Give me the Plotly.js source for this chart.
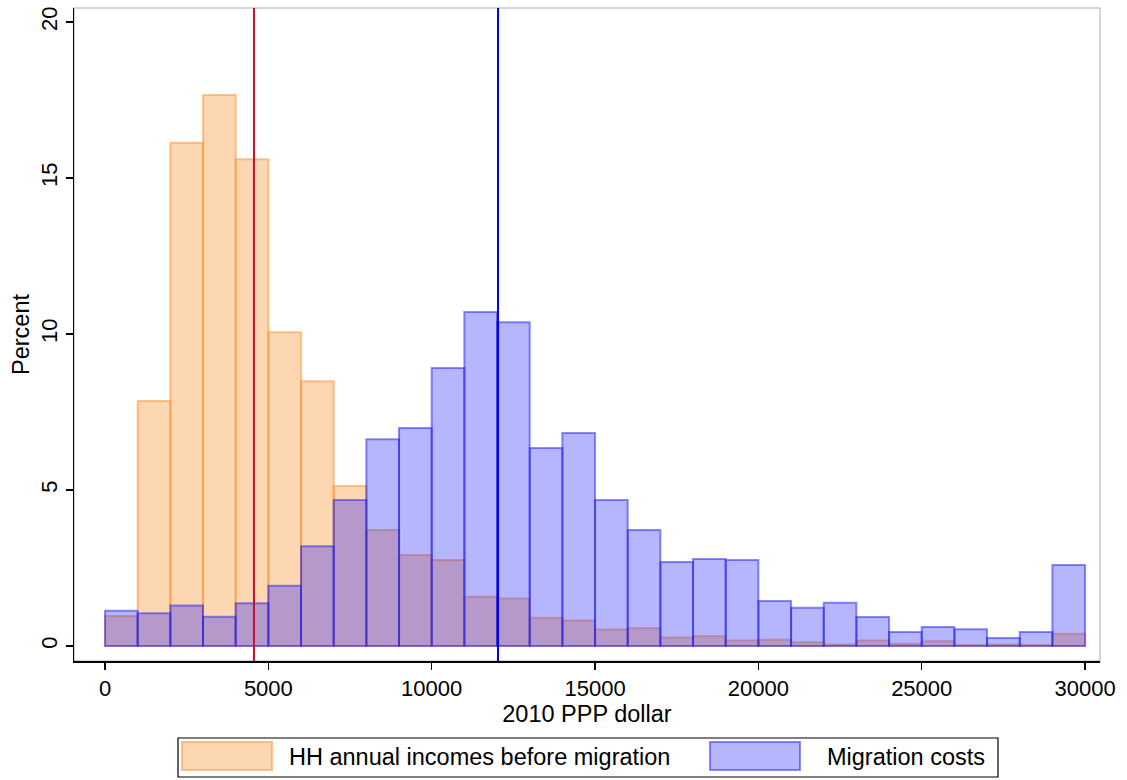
<!DOCTYPE html>
<html><head><meta charset="utf-8">
<script src="https://cdn.plot.ly/plotly-3.0.1.min.js"></script>
<style>html,body{margin:0;padding:0;background:#fff}#chart{width:1127px;height:780px}</style>
</head><body><div id="chart"></div>
<script>
// Bin left edges (2010 PPP dollars), width 1000
var binStarts = [0,1000,2000,3000,4000,5000,6000,7000,8000,9000,10000,11000,12000,13000,14000,15000,16000,17000,18000,19000,20000,21000,22000,23000,24000,25000,26000,27000,28000,29000];
var binWidth = 1000;
var incomePct = [0.96,7.85,16.13,17.66,15.6,10.06,8.49,5.13,3.72,2.92,2.76,1.58,1.52,0.91,0.82,0.53,0.57,0.27,0.31,0.18,0.2,0.12,0.05,0.18,0.07,0.15,0.03,0.05,0.03,0.39];
var costPct = [1.13,1.05,1.30,0.94,1.37,1.93,3.2,4.68,6.63,6.99,8.91,10.71,10.38,6.35,6.83,4.68,3.72,2.69,2.79,2.76,1.44,1.23,1.39,0.93,0.45,0.61,0.54,0.26,0.45,2.6];
var incomeMedian = 4560;
var costMedian = 12030;
var seriesNames = ["HH annual incomes before migration","Migration costs"];
var xTicks = [0,5000,10000,15000,20000,25000,30000];
var yTicks = [0,5,10,15,20];

var centers = binStarts.map(function(b){return b + binWidth/2;});
var FONT = "Liberation Sans, Arial, sans-serif";
var FS = 22, FT = 23.5;

var orangeFill = 'rgba(250,135,30,0.34)', orangeLine = 'rgba(252,150,60,0.55)';
var blueFill = 'rgba(20,20,255,0.31)', blueLine = 'rgba(30,30,240,0.5)';

var traces = [
  {type:'bar', x:centers, y:incomePct, width:binWidth, name:seriesNames[0], showlegend:false,
   marker:{color:orangeFill, line:{color:orangeLine, width:2}}},
  {type:'bar', x:centers, y:costPct, width:binWidth, name:seriesNames[1], showlegend:false,
   marker:{color:blueFill, line:{color:blueLine, width:2}}}
];

// plot area in pixels
var L=74, R=1100, T=8, B=661;
function px(x){return (x-L)/(R-L);}
function py(y){return (B-y)/(B-T);}

var shapes = [
  {type:'rect', xref:'paper', yref:'paper', x0:0, x1:1, y0:0, y1:1, line:{color:'#c8c8c8', width:1.5}, layer:'below'},
  {type:'line', xref:'x', yref:'paper', x0:incomeMedian, x1:incomeMedian, y0:0, y1:1, line:{color:'#C8102E', width:2}},
  {type:'line', xref:'x', yref:'paper', x0:costMedian, x1:costMedian, y0:0, y1:1, line:{color:'#0000F0', width:2}},
  // legend box
  {type:'rect', xref:'paper', yref:'paper', x0:px(178), x1:px(998), y0:py(777), y1:py(738), line:{color:'#000', width:1.2}, fillcolor:'#fff'},
  {type:'rect', xref:'paper', yref:'paper', x0:px(182), x1:px(272), y0:py(770), y1:py(742), line:{color:orangeLine, width:2}, fillcolor:orangeFill},
  {type:'rect', xref:'paper', yref:'paper', x0:px(710), x1:px(800), y0:py(770), y1:py(742), line:{color:blueLine, width:2}, fillcolor:blueFill}
];

var annotations = [
  {xref:'paper', yref:'paper', x:px(287), y:py(757), xanchor:'left', yanchor:'middle', showarrow:false, text:seriesNames[0], font:{family:FONT, size:FT, color:'#000'}},
  {xref:'paper', yref:'paper', x:px(825), y:py(757), xanchor:'left', yanchor:'middle', showarrow:false, text:seriesNames[1], font:{family:FONT, size:FT, color:'#000'}}
];

var layout = {
  width:1127, height:780,
  margin:{l:L, r:1127-R, t:T, b:780-B},
  paper_bgcolor:'#fff', plot_bgcolor:'#fff',
  barmode:'overlay', bargap:0,
  showlegend:false,
  font:{family:FONT, size:FS, color:'#000'},
  xaxis:{range:[-949,30457], tickvals:xTicks, ticktext:xTicks.map(String),
    ticks:'outside', ticklen:7, tickwidth:1.2, tickcolor:'#000', showline:true, linecolor:'#000', linewidth:1.5,
    showgrid:false, zeroline:false, tickfont:{family:FONT, size:FS},
    title:{text:'2010 PPP dollar', font:{family:FONT, size:FT}, standoff:0}},
  yaxis:{range:[-0.48,20.45], tickvals:yTicks, tickangle:-90,
    ticks:'outside', ticklen:7, tickwidth:1.2, tickcolor:'#000', showline:true, linecolor:'#000', linewidth:1.5,
    showgrid:false, zeroline:false, tickfont:{family:FONT, size:FS},
    title:{text:'Percent', font:{family:FONT, size:FT}, standoff:0}},
  shapes:shapes, annotations:annotations
};

Plotly.newPlot('chart', traces, layout, {displayModeBar:false, staticPlot:true});
</script></body></html>
